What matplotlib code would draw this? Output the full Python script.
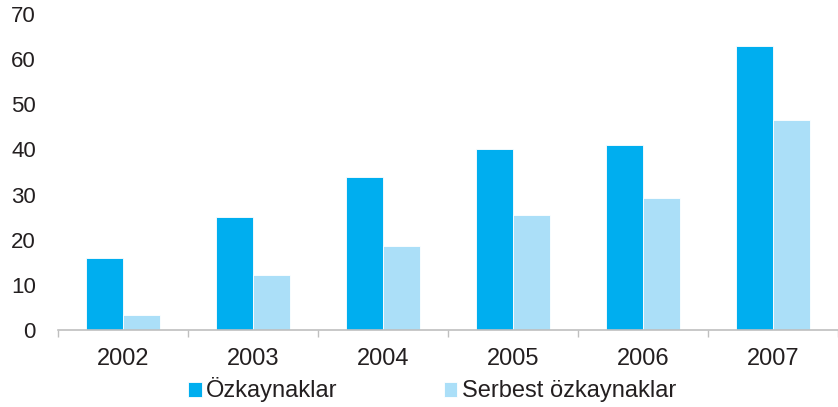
import numpy as np
import matplotlib.pyplot as plt

# Values
years = ['2002', '2003', '2004', '2005', '2006', '2007']
ozkaynaklar = [16, 25, 34, 40, 41, 63]
serbest_ozkaynaklar = [3.3, 12.2, 18.6, 25.5, 29.2, 46.5]

dark_blue = '#00AEEF'
light_blue = '#ABDFF8'
axis_grey = '#BFBFBF'
text_col = '#231F20'

plt.rcParams['font.family'] = ['Liberation Sans', 'DejaVu Sans']

fig = plt.figure(figsize=(8.38, 4.07), dpi=100)
# axes run off the right edge of the picture, as in the reference
ax = fig.add_axes([58 / 838, 1 - 330 / 407, 780 / 838, 316 / 407])

x = np.arange(len(years))
width = 0.285
ax.bar(x - width / 2, ozkaynaklar, width, color=dark_blue, edgecolor='white',
       linewidth=0.6, label='Özkaynaklar')
ax.bar(x + width / 2, serbest_ozkaynaklar, width, color=light_blue, edgecolor='white',
       linewidth=0.6, label='Serbest özkaynaklar')

cat_px = 131.7
ax.set_xlim(-0.5, -0.5 + 780 / cat_px)
ax.set_ylim(0, 70)
ax.set_yticks(range(0, 71, 10))
ax.tick_params(axis='y', length=0, pad=16, labelsize=16, labelcolor=text_col)

# category labels centred, boundary tick marks
ax.set_xticks(x)
ax.set_xticklabels(years)
ax.tick_params(axis='x', which='major', length=0, pad=13, labelsize=17, labelcolor=text_col)
ax.set_xticks(np.arange(-0.5, len(years), 1.0), minor=True)
ax.tick_params(axis='x', which='minor', length=5, width=1, color=axis_grey)

for side in ['top', 'right', 'left']:
    ax.spines[side].set_visible(False)
ax.spines['bottom'].set_color(axis_grey)
ax.spines['bottom'].set_linewidth(1.2)

fig.legend(loc='center', bbox_to_anchor=(432 / 838, 1 - 390 / 407), ncol=2,
           frameon=False, fontsize=17, handlelength=0.58, handleheight=0.58,
           handletextpad=0.18, columnspacing=4.5, borderpad=0, borderaxespad=0,
           labelcolor=text_col)

fig.savefig('out.png', dpi=100)
